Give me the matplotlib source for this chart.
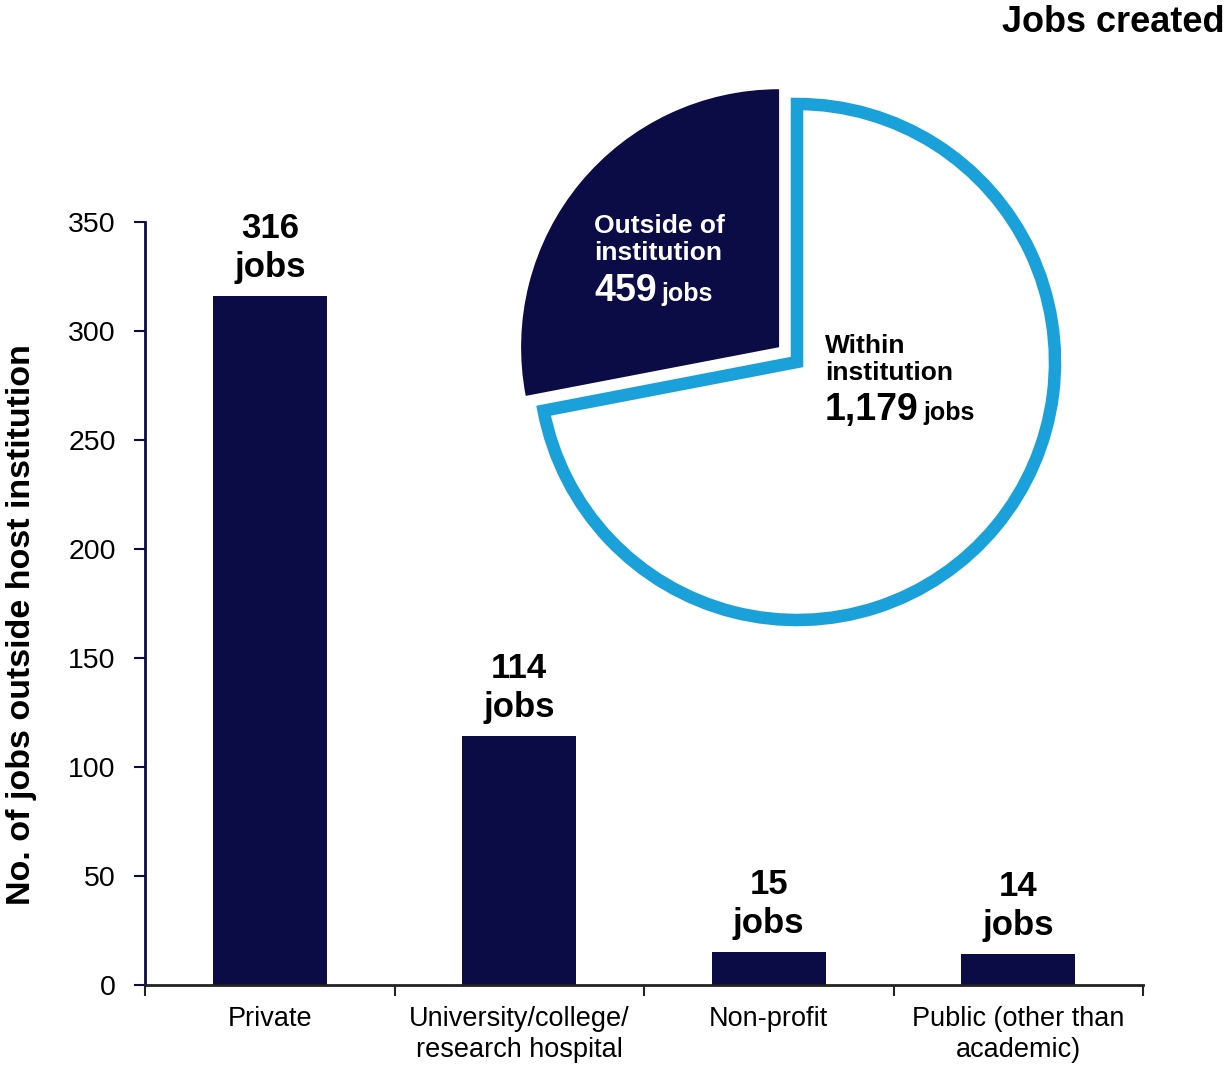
import matplotlib
matplotlib.use('Agg')
import matplotlib.pyplot as plt

plt.rcParams['font.family'] = ['Liberation Sans', 'DejaVu Sans']

# bar chart: jobs outside the host institution, by sector
sectors = ['Private', 'University/college/\nresearch hospital', 'Non-profit',
           'Public (other than\nacademic)']
jobs_outside = [316, 114, 15, 14]
yticks = [0, 50, 100, 150, 200, 250, 300, 350]

# pie: where the jobs were created
pie_values = [459, 1179]
pie_labels = ['Outside of\ninstitution', 'Within\ninstitution']
pie_numbers = ['459', '1,179']

navy = '#0b0b45'
blue = '#1ba1da'

W, H = 1229, 1067
fig = plt.figure(figsize=(W / 100, H / 100), dpi=100)

def px(x, y):
    return x / W, 1 - y / H

# ---- bars ----
ax = fig.add_axes([145 / W, 1 - 985 / H, (1143 - 145) / W, (985 - 222) / H])
xs = list(range(len(sectors)))
ax.bar(xs, jobs_outside, width=0.456, color=navy, zorder=2)
ax.set_xlim(-0.5, len(sectors) - 0.5)
ax.set_ylim(0, 350)
ax.set_yticks(yticks)
ax.set_xticks(xs)
ax.set_xticklabels(sectors, fontsize=19.5, linespacing=1.25)
ax.set_xticks([i - 0.5 for i in range(len(sectors) + 1)], minor=True)
ax.tick_params(axis='x', which='major', length=0, pad=15)
ax.tick_params(axis='x', which='minor', length=8, width=1.5, color='#222222', direction='out')
ax.tick_params(axis='y', length=8, width=1.5, color=navy, direction='out', pad=13, labelsize=20.5)
for s in ['top', 'right']:
    ax.spines[s].set_visible(False)
ax.spines['left'].set_color(navy)
ax.spines['left'].set_linewidth(2)
ax.spines['bottom'].set_color('#222222')
ax.spines['bottom'].set_linewidth(2)

for x, v in zip(xs, jobs_outside):
    ax.annotate('{}\njobs'.format(v), xy=(x, v), xytext=(0, 9), textcoords='offset points',
                ha='center', va='bottom', fontsize=25, fontweight='bold', linespacing=1.22)

fig.text(*px(22, 625), 'No. of jobs outside host institution', rotation=90,
         ha='center', va='center', fontsize=24.5, fontweight='bold')

# ---- pie ----
cx, cy, r = 797, 362, 258
half = 1.2 * r
pax = fig.add_axes([(cx - half) / W, 1 - (cy + half) / H, 2 * half / W, 2 * half / H])
wedges, _ = pax.pie(pie_values, startangle=90, counterclock=True,
                    colors=[navy, 'white'], explode=[0.09, 0.0])
wedges[1].set_edgecolor(blue)
wedges[1].set_linewidth(9)
wedges[1].set_joinstyle('miter')
pax.set_xlim(-1.2, 1.2)
pax.set_ylim(-1.2, 1.2)
pax.set_aspect('equal')
pax.axis('off')

# slice labels: name lines, then a big number followed by small "jobs"
label_spots = [((594, 260), (594, 301), 'white'), ((825, 380), (825, 420), 'black')]
fig.canvas.draw()
renderer = fig.canvas.get_renderer()
for lab, num, ((lx, ly), (nx, ny), col) in zip(pie_labels, pie_numbers, label_spots):
    fig.text(*px(lx, ly), lab, color=col, fontsize=19, fontweight='bold',
             ha='left', va='baseline', linespacing=1.15)
    t = fig.text(*px(nx, ny), num, color=col, fontsize=27, fontweight='bold',
                 ha='left', va='baseline')
    bb = t.get_window_extent(renderer)
    fig.text((bb.x1 + 5) / W, 1 - ny / H, 'jobs', color=col, fontsize=18,
             fontweight='bold', ha='left', va='baseline')

fig.text(*px(1225, 32), 'Jobs created', ha='right', va='baseline',
         fontsize=26, fontweight='bold')

fig.savefig('out.png', dpi=100)
